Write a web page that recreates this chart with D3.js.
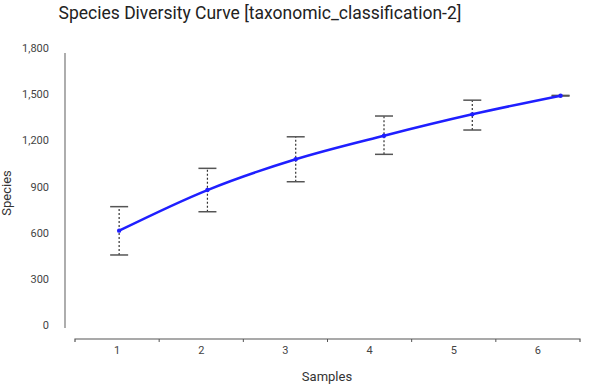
<!DOCTYPE html>
<html>
<head>
<meta charset="utf-8">
<script src="https://cdn.jsdelivr.net/npm/d3@7"></script>
<style>
  body { margin: 0; background: #fff; }
  svg { font-family: Roboto, 'Noto Sans', sans-serif; }
</style>
</head>
<body>
<div id="chart"></div>
<script>
// values
var samples = [1, 2, 3, 4, 5, 6];
var species = [613, 877, 1077, 1230, 1369, 1490];
var errLow = [455, 736, 931, 1109, 1267, 1488];
var errHigh = [769, 1018, 1223, 1358, 1461, 1492];
var yTicks = [0, 300, 600, 900, 1200, 1500, 1800];

var width = 608, height = 385;
var margin = {top: 48, right: 28, bottom: 60, left: 75};

var svg = d3.select("#chart").append("svg")
    .attr("width", width).attr("height", height);

var plotRight = width - margin.right;
var plotBottom = 325;

// axis bands vs point positions are slightly offset in the original
var xBand = d3.scaleBand().domain(samples).range([margin.left, plotRight]);
var x = d3.scaleLinear().domain([0.5, 6.22]).range([margin.left, plotRight]);
var y = d3.scaleLinear().domain([0, 1800]).range([plotBottom, margin.top]);

svg.append("text")
    .attr("x", 260).attr("y", 19)
    .attr("text-anchor", "middle")
    .style("font-size", "17.5px")
    .style("fill", "#222")
    .text("Species Diversity Curve [taxonomic_classification-2]");

// y axis: plain line with labels
var yAxis = svg.append("g")
    .attr("transform", "translate(65,0)")
    .call(d3.axisLeft(y).tickValues(yTicks).tickSize(0).tickPadding(16).tickFormat(d3.format(",")));
yAxis.select(".domain").attr("stroke", "#777").attr("stroke-width", 1.2)
    .attr("d", "M0," + (margin.top + 5) + "V" + (plotBottom + 3));
yAxis.selectAll("text").style("font-size", "11px").style("fill", "#444")
    .attr("font-family", "Roboto, sans-serif");

// x axis: ticks at band edges, labels centred
var xAxisY = 339;
var xg = svg.append("g").attr("transform", "translate(0," + xAxisY + ")");
xg.append("path")
    .attr("d", "M" + margin.left + ",3V0H" + plotRight + "V3")
    .attr("fill", "none").attr("stroke", "#555").attr("stroke-width", 1.2);
xg.selectAll(".tk").data(samples.slice(1))
    .enter().append("line")
    .attr("x1", function(d) { return xBand(d); })
    .attr("x2", function(d) { return xBand(d); })
    .attr("y1", 0).attr("y2", 3)
    .attr("stroke", "#555");
xg.selectAll(".lbl").data(samples)
    .enter().append("text")
    .attr("x", function(d) { return xBand(d) + xBand.bandwidth() / 2; })
    .attr("y", 15)
    .attr("text-anchor", "middle")
    .style("font-size", "11px").style("fill", "#444")
    .text(function(d) { return d; });

svg.append("text")
    .attr("x", 327).attr("y", 381)
    .attr("text-anchor", "middle")
    .style("font-size", "13px").style("fill", "#333")
    .text("Samples");

svg.append("text")
    .attr("transform", "translate(11,193) rotate(-90)")
    .attr("text-anchor", "middle")
    .style("font-size", "13px").style("fill", "#333")
    .text("Species");

var pts = samples.map(function(s, i) {
  return {s: s, v: species[i], lo: errLow[i], hi: errHigh[i]};
});

// error bars
var eb = svg.append("g").selectAll("g").data(pts).enter().append("g");
eb.append("line")
    .attr("x1", function(d) { return x(d.s); })
    .attr("x2", function(d) { return x(d.s); })
    .attr("y1", function(d) { return y(d.lo); })
    .attr("y2", function(d) { return y(d.hi); })
    .attr("stroke", "#333").attr("stroke-width", 1.2)
    .attr("stroke-dasharray", "2,2");
["lo", "hi"].forEach(function(k) {
  eb.append("line")
      .attr("x1", function(d) { return x(d.s) - 9; })
      .attr("x2", function(d) { return x(d.s) + 9; })
      .attr("y1", function(d) { return y(d[k]); })
      .attr("y2", function(d) { return y(d[k]); })
      .attr("stroke", "#555").attr("stroke-width", 1.5);
});

var line = d3.line()
    .x(function(d) { return x(d.s); })
    .y(function(d) { return y(d.v); })
    .curve(d3.curveMonotoneX);

svg.append("path").datum(pts)
    .attr("d", line)
    .attr("fill", "none")
    .attr("stroke", "#1f1fff")
    .attr("stroke-width", 2.5);

svg.append("g").selectAll("circle").data(pts).enter().append("circle")
    .attr("cx", function(d) { return x(d.s); })
    .attr("cy", function(d) { return y(d.v); })
    .attr("r", 2.2)
    .attr("fill", "#1f1fff");
</script>
</body>
</html>
